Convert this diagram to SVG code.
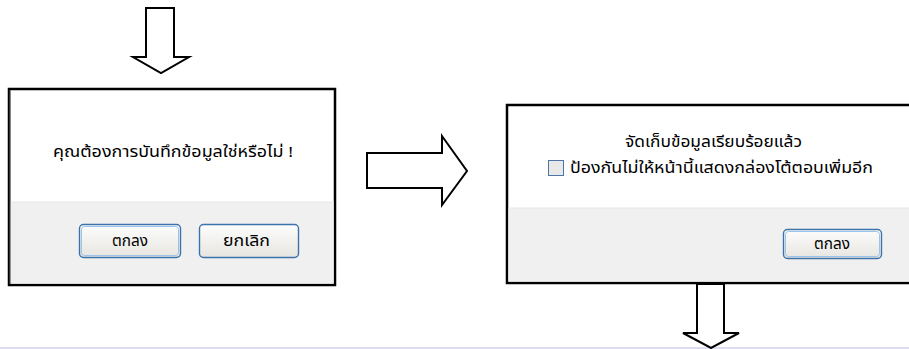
<svg xmlns="http://www.w3.org/2000/svg" width="909" height="349" viewBox="0 0 909 349">
<style>
.arrow{fill:#fff;stroke:#000;stroke-width:2;stroke-linejoin:miter}
.frame{fill:#fff;stroke:#000;stroke-width:2.5}
.band{fill:#f0f0f0}
.sep{stroke:#e6e6e6;stroke-width:1}
.btn{fill:url(#btnGrad);stroke:#3c73ab;stroke-width:1.4}
.btnfocus{fill:none;stroke:#9cc3ea;stroke-width:1}
.t{font-family:"Noto Sans Thai","Tahoma","DejaVu Sans","Noto Sans",sans-serif;font-size:15px;fill:#000}
.bt{font-family:"Noto Sans Thai","Tahoma","DejaVu Sans","Noto Sans",sans-serif;font-size:15px;fill:#000}
</style>
<defs>
<linearGradient id="btnGrad" x1="0" y1="0" x2="0" y2="1">
<stop offset="0" stop-color="#fdfdfd"/>
<stop offset="1" stop-color="#e6e5e0"/>
</linearGradient>
</defs>
<rect x="0" y="0" width="909" height="349" fill="#fff"/>
<rect x="0" y="347" width="909" height="2" fill="#dcdcf2"/>

<g id="dialog-confirm">
<rect class="frame" x="9" y="89" width="326" height="196"/>
<rect class="band" x="10.5" y="202" width="323" height="81.5"/>
<line class="sep" x1="10.5" y1="202" x2="333.5" y2="202"/>
<line x1="10" y1="90" x2="10" y2="284" stroke="#555" stroke-width="1"/>
<text class="t" x="53" y="157" textLength="240" lengthAdjust="spacingAndGlyphs">คุณต้องการบันทึกข้อมูลใช่หรือไม่ !</text>
<g id="btn-ok-1">
<rect class="btn" x="79.5" y="224.5" width="101" height="33" rx="4"/>
<rect class="btnfocus" x="81.5" y="226.5" width="97" height="29" rx="3"/>
<text class="bt" x="112" y="246" textLength="36" lengthAdjust="spacingAndGlyphs">ตกลง</text>
</g>
<g id="btn-cancel">
<rect class="btn" x="199.5" y="224.5" width="99" height="33" rx="4"/>
<text class="bt" x="223" y="246" textLength="47" lengthAdjust="spacingAndGlyphs">ยกเลิก</text>
</g>
</g>

<g id="dialog-saved">
<rect class="frame" x="507" y="105" width="410" height="178"/>
<rect class="band" x="508.5" y="208" width="402" height="73.5"/>
<line class="sep" x1="508.5" y1="208" x2="909" y2="208"/>
<text class="t" x="625" y="147" textLength="177" lengthAdjust="spacingAndGlyphs">จัดเก็บข้อมูลเรียบร้อยแล้ว</text>
<rect x="548.5" y="160.5" width="15" height="15" fill="#e8e8e8" stroke="#4a76a8" stroke-width="1"/>
<text class="t" x="570" y="173" textLength="303" lengthAdjust="spacingAndGlyphs">ป้องกันไม่ให้หน้านี้แสดงกล่องโต้ตอบเพิ่มอีก</text>
<g id="btn-ok-2">
<rect class="btn" x="783.5" y="229.5" width="98" height="29" rx="4"/>
<rect class="btnfocus" x="785.5" y="231.5" width="94" height="25" rx="3"/>
<text class="bt" x="814" y="249" textLength="36" lengthAdjust="spacingAndGlyphs">ตกลง</text>
</g>
</g>

<g id="connectors">
<polygon class="arrow" points="146,8 174,8 174,57 189,57 161,73 133,57 146,57"/>
<polygon class="arrow" points="367,153 442,153 442,136 467,171 442,205 442,188 367,188"/>
<polygon class="arrow" points="697,284 724,284 724,333 739,333 711,348 683,333 697,333"/>
</g>
</svg>
